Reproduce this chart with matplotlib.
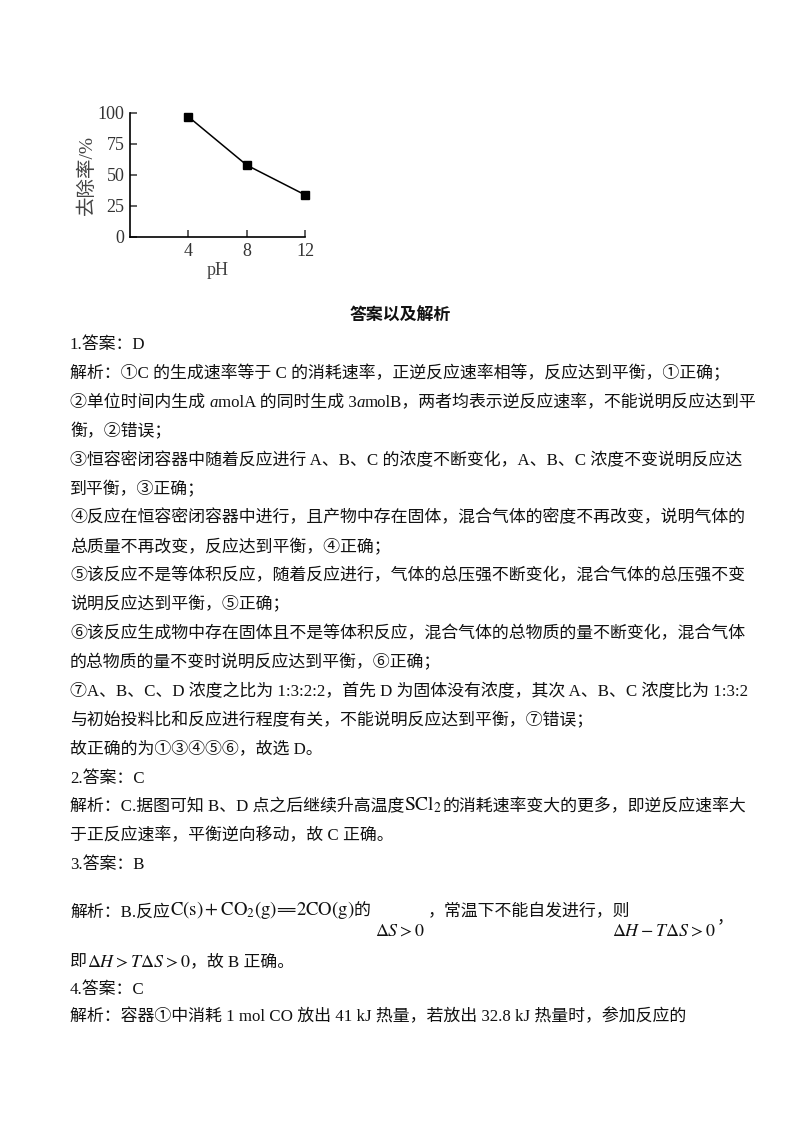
import matplotlib
matplotlib.use('Agg')
import matplotlib.pyplot as plt

# chart data
ph = [4, 8, 12]
removal = [97, 58, 34]
yticks = [0, 25, 50, 75, 100]
xticks = [4, 8, 12]

W, H = 800, 1132
CN = ['Liberation Serif', 'Noto Sans CJK SC', 'DejaVu Sans']
plt.rcParams['font.family'] = CN
plt.rcParams['mathtext.fontset'] = 'stix'

fig = plt.figure(figsize=(W / 100, H / 100), dpi=100)
renderer = fig.canvas.get_renderer()

# small line chart at the top left
ax = fig.add_axes([130 / W, 1 - 237 / H, 175 / W, 124 / H])
ax.plot(ph, removal, color='black', lw=1.1, marker='s', ms=5.5, clip_on=False)
ax.set_xlim(0, 12)
ax.set_ylim(0, 100)
ax.set_xticks(xticks)
ax.set_yticks(yticks)
ax.spines['top'].set_visible(False)
ax.spines['right'].set_visible(False)
for s in ['left', 'bottom']:
    ax.spines[s].set_linewidth(1.2)
ax.tick_params(direction='in', length=5, width=1.1, labelsize=13, colors='#333333', pad=4)
ax.set_ylabel('去除率/%', fontsize=14, color='#444444', labelpad=1)
ax.set_xlabel('pH', fontsize=13, color='#444444', labelpad=2)

FS = 12.2


def runs(y, parts, x=70):
    for text, kw in parts:
        dy = kw.pop('dy', 0)
        opts = dict(fontsize=FS, color='#111111')
        opts.update(kw)
        t = fig.text(x / W, 1 - (y + dy) / H, text, ha='left', va='center', **opts)
        x = t.get_window_extent(renderer).x1
    return x


def line(y, text, x=70):
    return runs(y, [(text, {})], x)


fig.text(0.5, 1 - 317 / H, '答案以及解析', ha='center', va='center',
         fontsize=FS, fontweight='bold', color='#111111')

body = [
    '1.答案：D',
    '解析：①C 的生成速率等于 C 的消耗速率，正逆反应速率相等，反应达到平衡，①正确；',
    None,
    '衡，②错误；',
    '③恒容密闭容器中随着反应进行 A、B、C 的浓度不断变化，A、B、C 浓度不变说明反应达',
    '到平衡，③正确；',
    '④反应在恒容密闭容器中进行，且产物中存在固体，混合气体的密度不再改变，说明气体的',
    '总质量不再改变，反应达到平衡，④正确；',
    '⑤该反应不是等体积反应，随着反应进行，气体的总压强不断变化，混合气体的总压强不变',
    '说明反应达到平衡，⑤正确；',
    '⑥该反应生成物中存在固体且不是等体积反应，混合气体的总物质的量不断变化，混合气体',
    '的总物质的量不变时说明反应达到平衡，⑥正确；',
    '⑦A、B、C、D 浓度之比为 1:3:2:2，首先 D 为固体没有浓度，其次 A、B、C 浓度比为 1:3:2',
    '与初始投料比和反应进行程度有关，不能说明反应达到平衡，⑦错误；',
    '故正确的为①③④⑤⑥，故选 D。',
    '2.答案：C',
    None,
    '于正反应速率，平衡逆向移动，故 C 正确。',
    '3.答案：B',
]

step = 28.9
y0 = 345
for i, txt in enumerate(body):
    y = y0 + i * step
    if txt is not None:
        line(y, txt)

# line with italic a
runs(y0 + 2 * step, [('②单位时间内生成 ', {}), ('a', {'style': 'italic'}),
                     ('molA 的同时生成 3', {}), ('a', {'style': 'italic'}),
                     ('molB，两者均表示逆反应速率，不能说明反应达到平', {})])

# line with SCl2
runs(y0 + 16 * step, [('解析：C.据图可知 B、D 点之后继续升高温度', {}),
                      (r'$\mathrm{SCl_2}$', {'fontsize': 14, 'dy': -3}),
                      ('的消耗速率变大的更多，即逆反应速率大', {})])

# reaction line
yr = y0 + 18 * step + 47
x = runs(yr, [('解析：B.反应', {}),
              (r'$\mathrm{C(s)+CO_2(g)}$', {'fontsize': 13.5, 'dy': -2}),
              ('══', {'family': ['DejaVu Sans'], 'fontsize': 11, 'dy': -2}),
              (r'$\mathrm{2CO(g)}$', {'fontsize': 13.5, 'dy': -2}),
              ('的', {})])
runs(yr, [(r'$\Delta S>0$', {'fontsize': 13, 'dy': 19})], x + 4)
runs(yr, [('，常温下不能自发进行，则', {})], 428)
xe = runs(yr, [(r'$\Delta H-T\Delta S>0$', {'fontsize': 13, 'dy': 19})], 612)
runs(yr, [('，', {'dy': 6})], xe + 1)

yn = yr + 50
runs(yn, [('即', {}), (r'$\Delta H>T\Delta S>0$', {'fontsize': 13}),
          ('，故 B 正确。', {})])
line(yn + 27.5, '4.答案：C')
line(yn + 55, '解析：容器①中消耗 1 mol CO 放出 41 kJ 热量，若放出 32.8 kJ 热量时，参加反应的')

fig.savefig('out.png', dpi=100)
